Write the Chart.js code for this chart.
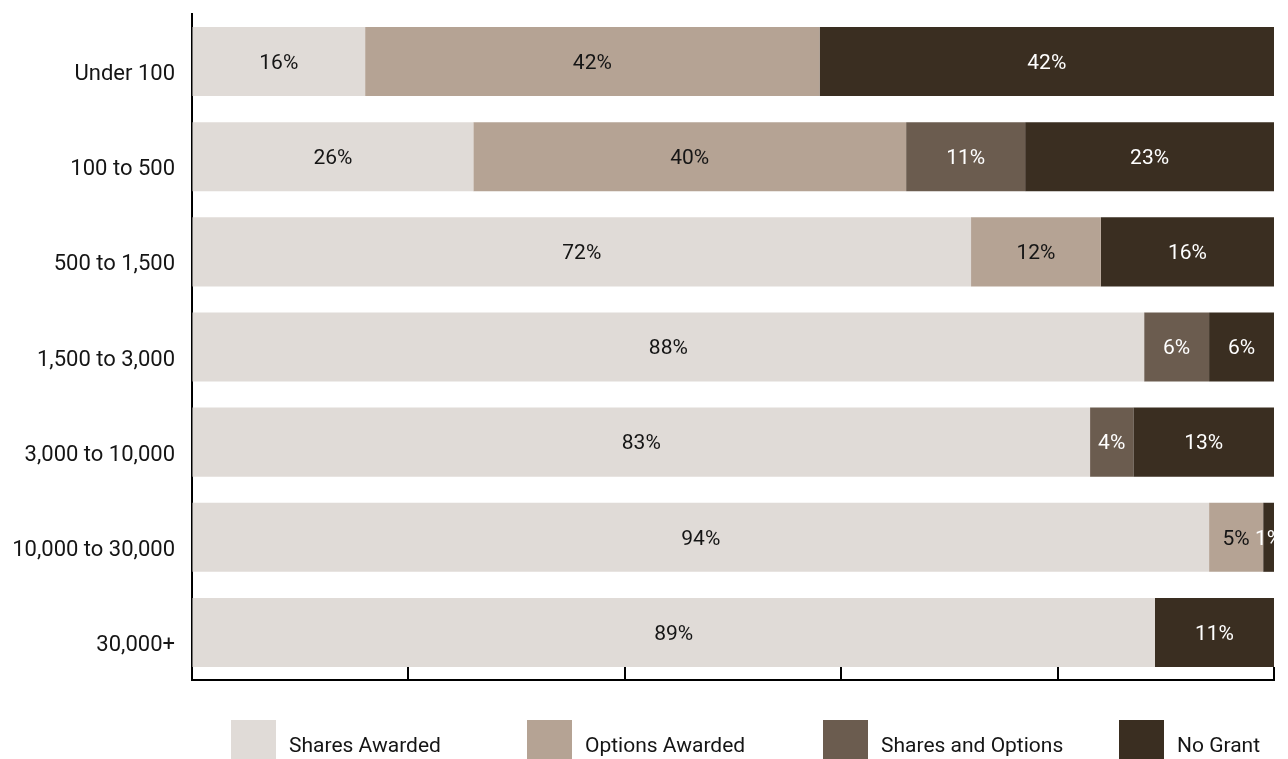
<!DOCTYPE html>
<html>
<head>
<meta charset="utf-8">
<script src="https://cdn.jsdelivr.net/npm/chart.js@4.4.1/dist/chart.umd.min.js"></script>
<style>
  html, body { margin: 0; padding: 0; background: #ffffff; }
  #wrap { width: 1288px; height: 759px; position: relative; }
</style>
</head>
<body>
<div id="wrap"><canvas id="chart" width="1288" height="759"></canvas></div>
<script>
// Grant type by company size (percent of respondents)
const categories = ['Under 100', '100 to 500', '500 to 1,500', '1,500 to 3,000', '3,000 to 10,000', '10,000 to 30,000', '30,000+'];
const seriesNames = ['Shares Awarded', 'Options Awarded', 'Shares and Options', 'No Grant'];
const sharesAwarded    = [16, 26, 72, 88, 83, 94, 89];
const optionsAwarded   = [42, 40, 12, null, null, 5, null];
const sharesAndOptions = [null, 11, null, 6, 4, null, null];
const noGrant          = [42, 23, 16, 6, 13, 1, 11];
const xTickValues      = [0, 20, 40, 60, 80, 100];

const seriesColors = ['#e0dbd7', '#b5a394', '#6b5c4f', '#3a2e21'];
const labelColors  = ['#151515', '#151515', '#ffffff', '#ffffff'];
const seriesValues = [sharesAwarded, optionsAwarded, sharesAndOptions, noGrant];

const FONT = 'Roboto';

// Percent text centred in each segment
const segmentLabels = {
  id: 'segmentLabels',
  afterDatasetsDraw(chart) {
    const ctx = chart.ctx;
    ctx.save();
    ctx.font = '21px ' + FONT;
    ctx.textAlign = 'center';
    ctx.textBaseline = 'middle';
    chart.data.datasets.forEach((ds, di) => {
      const meta = chart.getDatasetMeta(di);
      meta.data.forEach((bar, i) => {
        const v = ds.data[i];
        if (v === null || v === undefined) return;
        const p = bar.getProps(['x', 'y', 'base'], true);
        ctx.fillStyle = labelColors[di];
        ctx.fillText(v + '%', (p.x + p.base) / 2, p.y + 2);
      });
    });
    ctx.restore();
  }
};

// Short inward tick marks along the value axis
const innerTicks = {
  id: 'innerTicks',
  afterDraw(chart) {
    const ctx = chart.ctx;
    const xs = chart.scales.x;
    const bottom = chart.chartArea.bottom;
    ctx.save();
    ctx.strokeStyle = '#000000';
    ctx.lineWidth = 2;
    xTickValues.forEach(v => {
      const px = Math.round(xs.getPixelForValue(v));
      ctx.beginPath();
      ctx.moveTo(px, bottom - 13);
      ctx.lineTo(px, bottom + 1);
      ctx.stroke();
    });
    ctx.restore();
  }
};

// Legend laid out in equal columns below the plot
const columnLegend = {
  id: 'columnLegend',
  afterDraw(chart) {
    const ctx = chart.ctx;
    const startX = 231, step = 296, top = 720, box = 45;
    ctx.save();
    ctx.font = '21px ' + FONT;
    ctx.textAlign = 'left';
    ctx.textBaseline = 'middle';
    chart.data.datasets.forEach((ds, i) => {
      const x = startX + step * i;
      ctx.fillStyle = ds.backgroundColor;
      ctx.fillRect(x, top, box, box);
      ctx.fillStyle = '#151515';
      ctx.fillText(ds.label, x + box + 13, top + 27);
    });
    ctx.restore();
  }
};

new Chart(document.getElementById('chart'), {
  type: 'bar',
  data: {
    labels: categories,
    datasets: seriesNames.map((name, i) => ({
      label: name,
      data: seriesValues[i],
      backgroundColor: seriesColors[i],
      borderWidth: 0,
      barPercentage: 0.726,
      categoryPercentage: 1.0
    }))
  },
  options: {
    indexAxis: 'y',
    responsive: false,
    devicePixelRatio: 1,
    animation: false,
    layout: { padding: { top: 14, right: 14, bottom: 79, left: 0 } },
    plugins: {
      legend: { display: false },
      tooltip: { enabled: false }
    },
    scales: {
      x: {
        type: 'linear',
        stacked: true,
        min: 0,
        max: 100,
        ticks: { display: false, stepSize: 20 },
        grid: { display: true, drawOnChartArea: false, drawTicks: false },
        border: { display: true, color: '#000000', width: 2 },
        afterFit(scale) { scale.height = 0; scale.paddingLeft = 0; scale.paddingRight = 0; }
      },
      y: {
        stacked: true,
        ticks: {
          color: '#151515',
          font: { family: FONT, size: 22 },
          padding: 17,
          labelOffset: 13
        },
        grid: { display: true, drawOnChartArea: false, drawTicks: false },
        border: { display: true, color: '#000000', width: 2 },
        afterFit(scale) {
          scale.width = 192;
          scale.paddingTop = 0;
          scale.paddingBottom = 0;
        }
      }
    }
  },
  plugins: [segmentLabels, innerTicks, columnLegend]
});
</script>
</body>
</html>
